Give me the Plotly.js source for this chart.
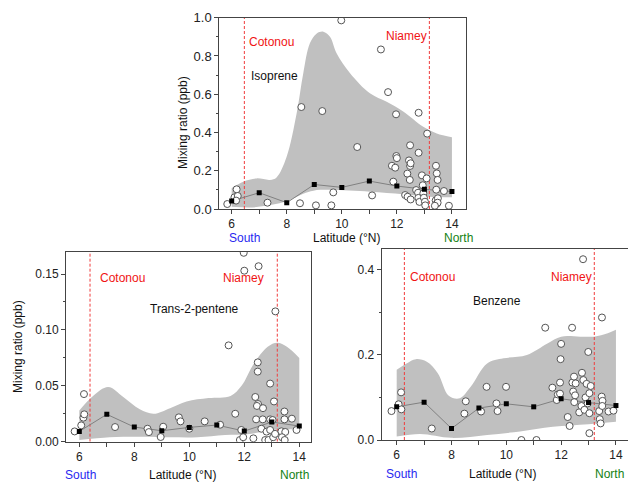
<!DOCTYPE html>
<html><head><meta charset="utf-8">
<script src="https://cdn.plot.ly/plotly-3.0.1.min.js"></script>
<style>body{margin:0;background:#fff}#c{width:628px;height:483px}</style>
</head><body><div id="c"></div>
<script>
// ---------- Isoprene (top) ----------
const isoX = [5.84,6.1,6.18,6.22,6.16,7.3,8.48,8.53,9.29,9.06,9.69,9.62,9.98,10.56,11.1,11.42,11.68,11.97,11.82,11.94,11.98,12.0,11.87,12.3,12.38,12.44,12.48,12.47,12.48,12.5,12.39,12.5,12.7,12.79,12.79,12.77,12.78,12.82,12.91,12.94,12.96,12.98,13.02,13.03,13.08,13.1,13.42,13.45,13.48,13.43,13.41,13.45,13.49,13.48,13.71,13.89,13.38];
const isoY = [0.026,0.061,0.103,0.068,0.044,0.033,0.030,0.533,0.512,0.019,0.087,0.019,0.986,0.324,0.071,0.834,0.611,0.495,0.226,0.216,0.277,0.266,0.143,0.073,0.185,0.254,0.333,0.152,0.225,0.239,0.064,0.050,0.099,0.503,0.294,0.085,0.058,0.037,0.176,0.124,0.082,0.059,0.038,0.019,0.160,0.394,0.226,0.186,0.152,0.101,0.045,0.028,0.056,0.033,0.094,0.017,0.017];
const isoMeanX = [6,7,8,9,10,11,12,13,14];
const isoMeanY = [0.042,0.085,0.033,0.128,0.113,0.146,0.120,0.103,0.091];
const isoBandX = [6,6.42,6.91,7.39,7.63,7.99,8.36,8.6,8.84,9.09,9.33,9.57,9.81,10.3,11.02,11.63,12.23,12.96,13.45,14];
const isoBandUp = [0.11,0.143,0.16,0.152,0.165,0.27,0.5,0.71,0.866,0.918,0.927,0.9,0.814,0.71,0.605,0.56,0.51,0.43,0.395,0.375];
const isoBandLoX = [6,6.9,7.99,8.6,8.97,9.57,11.02,12.23,13.2,14];
const isoBandLo = [0.012,0.01,0.04,0.08,0.096,0.1,0.09,0.077,0.064,0.061];
const isoCities = [6.46,13.18];

// ---------- Trans-2-pentene (bottom left) ----------
const penX = [5.83,6.07,6.15,6.18,6.17,7.3,8.48,8.53,8.96,9.05,9.62,9.68,10.0,10.56,11.12,11.43,11.67,11.89,11.84,11.96,11.98,12.0,12.33,12.49,12.49,12.52,12.94,12.4,12.5,12.46,12.68,13.08,13.13,12.43,12.67,12.94,13.03,12.62,12.81,12.94,12.76,12.88,13.05,13.12,13.46,13.46,13.73,13.35,13.49,13.37,13.47,13.9];
const penY = [0.0092,0.0146,0.0215,0.0245,0.0426,0.0131,0.0116,0.0086,0.0042,0.0134,0.0218,0.0182,0.0116,0.0182,0.0152,0.0862,0.025,0.0105,0.0015,0.004,0.169,0.153,0.003,0.071,0.0627,0.157,0.052,0.040,0.0337,0.032,0.030,0.036,0.1166,0.020,0.020,0.020,0.0194,0.0116,0.009,0.0105,0.0015,0.0015,0.004,0.007,0.027,0.020,0.0206,0.0093,0.0087,0.004,0.0015,0.0105];
const penMeanX = [6,7,8,9,10,11,12,13,14];
const penMeanY = [0.0092,0.0245,0.0131,0.0098,0.0128,0.0149,0.0095,0.0176,0.014];
const penBandX = [6,6.5,7.05,7.6,8.2,8.7,9.3,9.9,10.7,11.5,11.9,12.35,12.85,13.2,13.55,14];
const penBandUp = [0.028,0.041,0.049,0.040,0.029,0.025,0.030,0.036,0.039,0.041,0.05,0.07,0.085,0.0886,0.085,0.075];
const penBandLoX = [6,7.1,8.3,9.3,10.3,11.3,12.2,13.0,14];
const penBandLo = [0.0015,0.004,0.0045,0.004,0.004,0.006,0.007,0.0105,0.011];
const penCities = [6.39,13.2];

// ---------- Benzene (bottom right) ----------
const benX = [5.81,6.07,6.16,6.17,7.28,8.47,8.52,9.28,9.08,9.64,9.68,9.99,10.55,11.1,11.42,11.68,11.84,11.88,11.96,11.98,12.0,11.96,12.24,12.31,12.4,12.41,12.44,12.47,12.53,12.48,12.51,12.66,12.74,12.76,12.81,12.8,12.85,12.89,12.93,12.97,12.99,13.03,13.03,13.03,13.08,13.39,13.41,13.44,13.48,13.49,13.51,13.5,13.73,13.91];
const benY = [0.068,0.084,0.112,0.072,0.027,0.062,0.091,0.125,0.067,0.086,0.068,0.125,0.0,0.0,0.264,0.123,0.094,0.107,0.135,0.19,0.226,0.109,0.054,0.033,0.264,0.135,0.114,0.149,0.133,0.089,0.105,0.065,0.08,0.158,0.141,0.425,0.071,0.1,0.132,0.086,0.207,0.11,0.063,0.016,0.127,0.068,0.049,0.039,0.102,0.288,0.092,0.08,0.067,0.069];
const benMeanX = [6,7,8,9,10,11,12,13,14];
const benMeanY = [0.078,0.089,0.027,0.075,0.085,0.078,0.097,0.088,0.081];
const benBandX = [6,6.36,6.7,7.1,7.5,7.9,8.3,8.7,9.3,9.9,10.75,11.5,12.0,12.7,13.2,13.7,14];
const benBandUp = [0.165,0.18,0.19,0.184,0.157,0.104,0.098,0.125,0.18,0.192,0.2,0.227,0.243,0.243,0.243,0.251,0.259];
const benBandLoX = [6,6.85,8.0,9.3,10.5,11.7,13.0,14];
const benBandLo = [0.008,0.014,0.005,0.012,0.02,0.031,0.037,0.043];
const benCities = [6.28,13.21];

const cityNames = ['Cotonou','Niamey'];
const yTitle = 'Mixing ratio (ppb)';
const xTitle = 'Latitude (°N)';

const FONT = 'Liberation Sans, Arial, sans-serif';
const AX = '#444';
const W = 628, H = 483;
const px = v => v / W, py = v => 1 - v / H;

function panel(xa, ya, X, Y, mX, mY, bX, bUp, bLX, bLo, cities, yTop){
  const t = [];
  t.push({x:bLX, y:bLo, xaxis:xa, yaxis:ya, mode:'lines', line:{width:0, shape:'spline', smoothing:1}, hoverinfo:'skip'});
  t.push({x:bX, y:bUp, xaxis:xa, yaxis:ya, mode:'lines', fill:'tonexty', fillcolor:'rgb(192,192,192)', line:{width:0, shape:'spline', smoothing:1}, hoverinfo:'skip'});
  cities.forEach(c => t.push({x:[c,c], y:[0,yTop], xaxis:xa, yaxis:ya, mode:'lines', line:{color:'rgb(240,60,60)', width:1, dash:'3px,2px'}, hoverinfo:'skip'}));
  t.push({x:mX, y:mY, xaxis:xa, yaxis:ya, mode:'lines', line:{color:'#808080', width:1}});
  t.push({x:X, y:Y, xaxis:xa, yaxis:ya, mode:'markers', marker:{symbol:'circle', size:7, color:'#fff', line:{color:'#555', width:1}}});
  t.push({x:mX, y:mY, xaxis:xa, yaxis:ya, mode:'markers', marker:{symbol:'square', size:5, color:'#000'}});
  return t;
}

const data = [].concat(
  panel('x','y',isoX,isoY,isoMeanX,isoMeanY,isoBandX,isoBandUp,isoBandLoX,isoBandLo,isoCities,1.0),
  panel('x2','y2',penX,penY,penMeanX,penMeanY,penBandX,penBandUp,penBandLoX,penBandLo,penCities,0.17),
  panel('x3','y3',benX,benY,benMeanX,benMeanY,benBandX,benBandUp,benBandLoX,benBandLo,benCities,0.449)
);

function xax(dom, range, anchor){
  return {domain:dom, range:range, anchor:anchor, dtick:2, tick0:0, ticks:'outside', ticklen:4, tickcolor:AX,
    showline:true, linecolor:AX, linewidth:1, mirror:true, showgrid:false, zeroline:false,
    tickfont:{family:FONT, size:12, color:'#222'},
    minor:{dtick:1, ticks:'outside', ticklen:4, tickcolor:AX, showgrid:false}};
}
function yax(dom, range, anchor, dtick, fmt, mirror, fs){
  return {domain:dom, range:range, anchor:anchor, dtick:dtick, tick0:0, ticks:'outside', ticklen:4, tickcolor:AX,
    showline:true, linecolor:AX, linewidth:1, mirror:mirror, showgrid:false, zeroline:false, tickformat:fmt,
    tickfont:{family:FONT, size:fs, color:'#222'},
    minor:{dtick:dtick/2, ticks:'outside', ticklen:2, tickcolor:AX, showgrid:false}};
}

const ann = [];
function txt(x, y, s, color, opts){
  ann.push(Object.assign({x:x, y:y, text:s, showarrow:false, xanchor:'left', yanchor:'middle',
    font:{family:FONT, size:12, color:color}}, opts||{}));
}
// top
txt(6.555, 0.875, cityNames[0], 'rgb(240,20,20)', {xref:'x', yref:'y'});
txt(11.53, 0.906, cityNames[1], 'rgb(240,20,20)', {xref:'x', yref:'y'});
txt(6.63, 0.695, 'Isoprene', '#111', {xref:'x', yref:'y'});
txt(px(227), py(238), 'South', 'rgb(40,40,240)', {xref:'paper', yref:'paper'});
txt(px(347), py(238), xTitle, '#111', {xref:'paper', yref:'paper', xanchor:'center'});
txt(px(442), py(238), 'North', 'rgb(20,130,20)', {xref:'paper', yref:'paper'});
txt(px(183), py(123), yTitle, '#111', {xref:'paper', yref:'paper', xanchor:'center', textangle:-90});
// bottom left
txt(6.68, 0.1464, cityNames[0], 'rgb(240,20,20)', {xref:'x2', yref:'y2'});
txt(11.15, 0.1464, cityNames[1], 'rgb(240,20,20)', {xref:'x2', yref:'y2'});
txt(8.50, 0.1187, 'Trans-2-pentene', '#111', {xref:'x2', yref:'y2'});
txt(px(63), py(475), 'South', 'rgb(40,40,240)', {xref:'paper', yref:'paper'});
txt(px(183), py(475), xTitle, '#111', {xref:'paper', yref:'paper', xanchor:'center'});
txt(px(278), py(475), 'North', 'rgb(20,130,20)', {xref:'paper', yref:'paper'});
txt(px(18), py(347), yTitle, '#111', {xref:'paper', yref:'paper', xanchor:'center', textangle:-90});
// bottom right
txt(6.41, 0.3835, cityNames[0], 'rgb(240,20,20)', {xref:'x3', yref:'y3'});
txt(11.56, 0.3835, cityNames[1], 'rgb(240,20,20)', {xref:'x3', yref:'y3'});
txt(8.71, 0.327, 'Benzene', '#111', {xref:'x3', yref:'y3'});
txt(px(384), py(474), 'South', 'rgb(40,40,240)', {xref:'paper', yref:'paper'});
txt(px(503), py(474), xTitle, '#111', {xref:'paper', yref:'paper', xanchor:'center'});
txt(px(626), py(474), 'North', 'rgb(20,130,20)', {xref:'paper', yref:'paper', xanchor:'right'});

const layout = {
  width:W, height:H, margin:{l:0,r:0,t:0,b:0}, showlegend:false,
  paper_bgcolor:'#fff', plot_bgcolor:'#fff', font:{family:FONT, size:12},
  xaxis: xax([px(219.3), px(465.7)], [5.55, 14.5], 'y'),
  yaxis: yax([py(209), py(17.7)], [0, 1.0], 'x', 0.2, '.1f', true, 13),
  xaxis2: xax([px(66), px(310.7)], [5.516, 14.415], 'y2'),
  yaxis2: yax([py(441.7), py(251.7)], [0, 0.17], 'x2', 0.05, '.2f', true, 12),
  xaxis3: xax([px(381.7), 1], [5.453, 14.44], 'y3'),
  yaxis3: yax([py(440), py(249)], [0, 0.449], 'x3', 0.2, '.1f', false, 12),
  annotations: ann
};
Plotly.newPlot('c', data, layout, {staticPlot:true});
</script></body></html>
